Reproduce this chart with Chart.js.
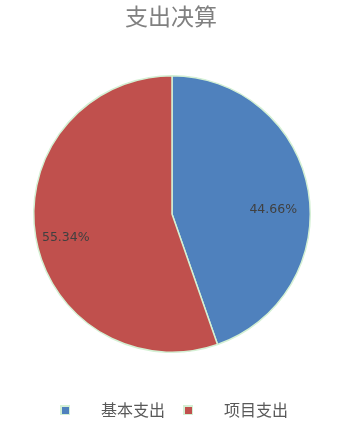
<!DOCTYPE html>
<html>
<head>
<meta charset="utf-8">
<script src="https://cdn.jsdelivr.net/npm/chart.js@4"></script>
<style>
  html, body { margin: 0; padding: 0; background: #fff; }
  #wrap { width: 359px; height: 428px; }
</style>
</head>
<body>
<div id="wrap"><canvas id="myChart" width="359" height="428"></canvas></div>
<script>
const chartTitle = '支出决算';
const categories = ['基本支出', '项目支出'];
const values = [44.66, 55.34];
const colors = ['#4F81BD', '#C0504D'];

const FONT = '"Noto Sans CJK SC", "Noto Sans", sans-serif';

// title, percent labels and legend drawn on the canvas
const extras = {
  id: 'extras',
  afterDraw(chart) {
    const ctx = chart.ctx;
    ctx.save();
    // title
    ctx.fillStyle = '#808080';
    ctx.font = '23px ' + FONT;
    ctx.textAlign = 'center';
    ctx.textBaseline = 'middle';
    ctx.fillText(chartTitle, 171, 16);

    // percent labels
    const meta = chart.getDatasetMeta(0);
    const total = values.reduce((a, b) => a + b, 0);
    ctx.font = '12.5px "DejaVu Sans", sans-serif';
    ctx.fillStyle = '#404040';
    const shift = [[-1, 13], [-4, 6]];
    meta.data.forEach((arc, i) => {
      const p = arc.getProps(['x', 'y', 'startAngle', 'endAngle', 'outerRadius'], true);
      const mid = (p.startAngle + p.endAngle) / 2;
      const r = p.outerRadius * 0.75;
      const x = p.x + Math.cos(mid) * r + shift[i][0];
      const y = p.y + Math.sin(mid) * r + shift[i][1];
      ctx.fillText((values[i] / total * 100).toFixed(2) + '%', x, y);
    });

    // legend
    const legendX = [65, 188];
    const ly = 410;
    ctx.textAlign = 'left';
    ctx.font = '16px ' + FONT;
    categories.forEach((c, i) => {
      ctx.fillStyle = '#D4F0D4';
      ctx.fillRect(legendX[i] - 5, ly - 5, 10, 10);
      ctx.fillStyle = colors[i];
      ctx.fillRect(legendX[i] - 3, ly - 3, 7, 7);
      ctx.fillStyle = '#595959';
      ctx.fillText(c, legendX[i] + 36, ly);
    });
    ctx.restore();
  }
};

const ctx = document.getElementById('myChart').getContext('2d');
const myChart = new Chart(ctx, {
  type: 'pie',
  data: {
    labels: categories,
    datasets: [{
      data: values,
      backgroundColor: colors,
      borderColor: '#D4F0D4',
      borderWidth: 1.5,
      hoverOffset: 0
    }]
  },
  options: {
    responsive: false,
    animation: false,
    layout: { padding: { left: 33, right: 48, top: 75, bottom: 75 } },
    plugins: {
      legend: { display: false },
      title: { display: false },
      tooltip: { enabled: false }
    }
  },
  plugins: [extras]
});
</script>
</body>
</html>
